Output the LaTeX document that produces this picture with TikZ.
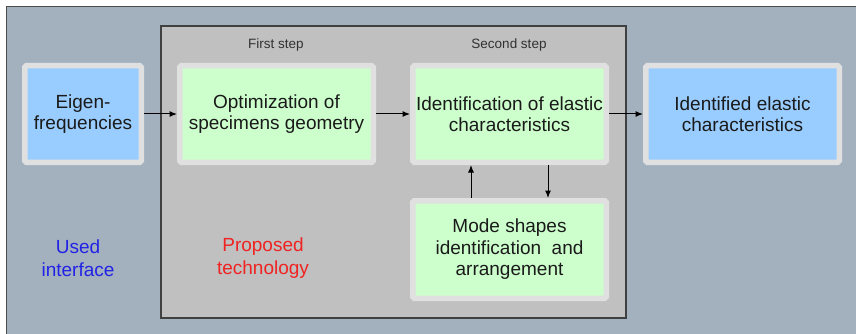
\documentclass[tikz,border=0pt]{standalone}
\usepackage{fontspec}
\setmainfont{Liberation Sans}
\usetikzlibrary{arrows.meta}
\definecolor{bgC}{HTML}{A3B1BF}
\definecolor{grayC}{HTML}{C0C0C0}
\definecolor{frameC}{HTML}{E0E0E0}
\definecolor{blueC}{HTML}{99CCFF}
\definecolor{greenC}{HTML}{CCFFCC}
\definecolor{txtC}{HTML}{1A1A1A}
\definecolor{usedC}{HTML}{2222E6}
\definecolor{propC}{HTML}{F02222}
\tikzset{
  box/.style={draw=frameC, line width=5.5pt, rounded corners=1.5pt, align=center,
    inner sep=0pt, text=txtC, font=\fontsize{19}{21.5}\selectfont,
    minimum width=193.5pt, minimum height=96.5pt},
  steplabel/.style={font=\fontsize{13.5}{15}\selectfont, text=txtC!90},
  biglabel/.style={font=\fontsize{19}{22.5}\selectfont, align=center},
  arr/.style={-{Latex[length=7.5pt,width=6pt]}, line width=1pt, black}
}
\begin{document}
\begin{tikzpicture}[x=1pt,y=-1pt]
\useasboundingbox (0,0) rectangle (856,334);
\fill[white] (0,0) rectangle (856,334);
\fill[bgC] (6,7) rectangle (856,334);
\draw[black!70, line width=1pt] (6,334) -- (6,7) -- (856,7);
\draw[fill=grayC, draw=black!75, line width=1.2pt] (161,26) rectangle (626,318);
\node[steplabel] (s1) at (276,45) {First step};
\node[steplabel] (s2) at (509,45) {Second step};
\node[box, fill=blueC, minimum width=116.5pt] (eig) at (83,114) {Eigen-\\frequencies};
\node[box, fill=greenC] (opt) at (276.5,114) {Optimization of\\specimens geometry};
\node[box, fill=greenC] (ide) at (509.5,114) {Identification of elastic\\characteristics};
\node[box, fill=blueC] (res) at (742.5,114) {Identified elastic\\characteristics};
\node[box, fill=greenC, minimum height=97.5pt] (mode) at (509.5,249.5) {Mode shapes\\identification\ \ and\\arrangement};
\node[biglabel, text=usedC] (used) at (78,258) {Used\\interface};
\node[biglabel, text=propC] (prop) at (263,258) {Proposed\\technology};
\draw[arr] (eig.east) -- (opt.west);
\draw[arr] (opt.east) -- (ide.west);
\draw[arr] (ide.east) -- (res.west);
\draw[arr] ([xshift=-38.5pt]mode.north) -- ([xshift=-38.5pt]ide.south);
\draw[arr] ([xshift=38.5pt]ide.south) -- ([xshift=38.5pt]mode.north);
\end{tikzpicture}
\end{document}
